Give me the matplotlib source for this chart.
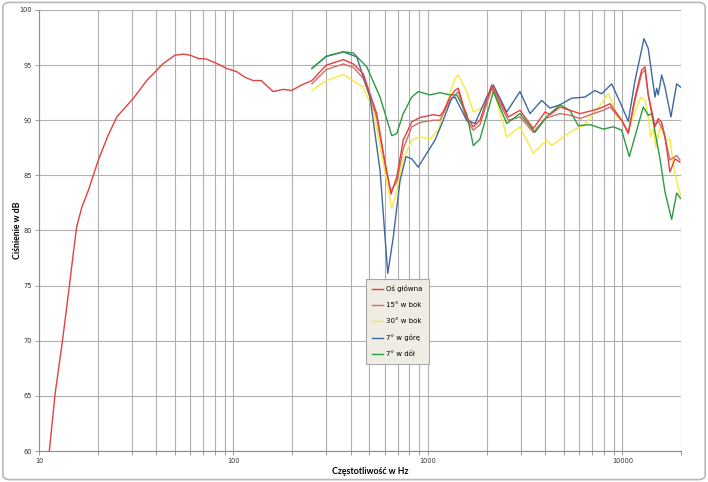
import matplotlib
matplotlib.use("Agg")
import matplotlib.pyplot as plt
from matplotlib.patches import FancyBboxPatch
from matplotlib.ticker import FixedLocator, NullFormatter, LogLocator

# ---------------- data ----------------
main_f = [11.3, 12.1, 13.2, 14.3, 15.0, 15.6, 16.6, 17.9, 20.2, 22.5, 25.1, 30.6, 35.8,
          43.6, 50, 55.3, 59.8, 66, 72.6, 81.9, 92.2, 104, 114.6, 126, 139, 151, 160,
          180, 199, 224, 253, 300, 367, 413, 465, 503, 545, 590, 613, 645, 691, 746,
          825, 910, 1065, 1153, 1200, 1298, 1377, 1431, 1581, 1710, 1851, 2126, 2588,
          2972, 3479, 3995, 4238, 4772, 5371, 6046, 7077, 7967, 8625, 9906, 10710,
          11600, 12550, 13050, 13570, 14130, 14690, 15270, 15900, 16540, 17540, 18610,
          19740]
main_db = [60.0, 65.2, 70.0, 74.85, 77.9, 80.3, 82.1, 83.6, 86.4, 88.5, 90.3, 92.0, 93.6,
           95.15, 95.9, 96.0, 95.9, 95.6, 95.55, 95.15, 94.7, 94.4, 93.9, 93.6, 93.6, 93.0,
           92.6, 92.8, 92.7, 93.2, 93.6, 95.0, 95.5, 95.1, 94.2, 92.4, 90.6, 87.0, 85.45,
           83.3, 84.85, 88.2, 89.85, 90.25, 90.5, 90.4, 90.8, 92.1, 92.7, 92.9, 90.3, 89.4,
           90.0, 93.2, 90.3, 90.9, 89.25, 90.75, 90.5, 91.2, 90.9, 90.6, 90.9, 91.2, 91.5,
           90.0, 88.8, 92.1, 94.55, 94.85, 92.3, 90.9, 89.4, 90.15, 89.8, 88.5, 85.3, 86.5,
           86.2]

s15_f = [253, 300, 367, 413, 465, 503, 545, 590, 613, 645, 691, 746, 825, 910, 1065, 1153,
         1298, 1431, 1581, 1710, 1851, 2126, 2588, 2972, 3479, 3995, 4772, 5371, 6046,
         7077, 7967, 8625, 9906, 10710, 11600, 12550, 13050, 13570, 14130, 14690, 15270,
         16200, 17540, 18990, 19740]
s15_db = [93.3, 94.6, 95.1, 94.8, 93.8, 92.2, 90.2, 86.8, 85.2, 83.6, 84.4, 87.4, 89.4,
          89.8, 90.0, 90.0, 91.8, 92.6, 90.0, 89.1, 89.6, 92.9, 90.0, 90.3, 88.9, 90.15,
          90.6, 90.45, 90.15, 90.6, 90.9, 91.2, 90.0, 88.9, 91.8, 94.25, 94.55, 92.3, 90.6,
          89.6, 89.9, 89.1, 86.4, 86.8, 86.4]

s30_f = [253, 300, 367, 465, 523, 589, 651, 691, 746, 825, 910, 1024, 1130, 1248, 1377,
         1431, 1581, 1710, 1924, 2167, 2539, 2972, 3479, 4076, 4325, 5062, 5584, 6287,
         7367, 8454, 8970, 9337, 9906, 10710, 11460, 12450, 13050, 13570, 13960, 14400,
         14860, 15590, 16870, 17540, 18240, 19120, 19900]
s30_db = [92.7, 93.6, 94.15, 93.0, 90.9, 86.1, 82.0, 83.6, 86.4, 88.2, 88.5, 88.3, 89.1,
          91.5, 93.8, 94.1, 92.6, 90.75, 91.2, 92.9, 88.5, 89.4, 87.0, 88.2, 87.7, 88.6,
          89.1, 89.5, 90.9, 92.4, 91.4, 90.3, 90.0, 88.85, 90.6, 92.1, 91.8, 90.3, 88.5,
          89.2, 87.5, 89.4, 88.2, 88.3, 86.0, 84.2, 83.2]

up_f = [253, 300, 367, 430, 503, 567, 621, 663, 718, 771, 825, 891, 985, 1087, 1198, 1324,
        1377, 1460, 1581, 1744, 2004, 2167, 2539, 2972, 3345, 3842, 4238, 4772, 5480, 6414,
        7221, 7818, 8801, 9708, 10710, 11600, 12900, 13570, 14690, 14990, 15270, 15900,
        16540, 17750, 18990, 19900]
up_db = [94.7, 95.8, 96.2, 95.75, 92.1, 85.45, 76.1, 79.4, 84.5, 86.7, 86.5, 85.75, 87.0,
         88.2, 90.0, 92.0, 92.1, 91.2, 90.0, 89.7, 92.1, 93.2, 90.75, 92.6, 90.6, 91.8,
         91.1, 91.4, 92.0, 92.1, 92.7, 92.4, 93.3, 91.65, 89.9, 93.6, 97.4, 96.5, 92.1,
         92.9, 92.3, 94.1, 93.0, 90.3, 93.3, 93.0]

down_f = [253, 300, 367, 413, 484, 567, 651, 691, 746, 825, 891, 1024, 1153, 1298, 1405,
          1581, 1710, 1851, 2167, 2539, 2972, 3549, 4076, 4772, 5371, 5925, 6806, 7967,
          8970, 9906, 10840, 12790, 13570, 14130, 15590, 16540, 17900, 18990, 19900]
down_db = [94.7, 95.8, 96.2, 96.1, 94.85, 92.1, 88.6, 88.8, 90.6, 92.1, 92.6, 92.3, 92.5,
           92.3, 92.3, 90.6, 87.7, 88.3, 92.6, 89.7, 90.6, 88.9, 90.3, 91.4, 90.9, 89.5,
           89.6, 89.2, 89.4, 89.1, 86.7, 91.2, 90.45, 90.6, 86.5, 83.5, 81.0, 83.4, 82.9]

labels = ["Oś główna", "15° w bok", "30° w bok", "7° w górę", "7° w dół"]
colors = ["#E3413D", "#CF6E68", "#F4EC3C", "#3F699E", "#2F9A3E"]

x_ticks = [10, 100, 1000, 10000]
x_ticklabels = ["10", "100", "1000", "10000"]
y_ticks = [60, 65, 70, 75, 80, 85, 90, 95, 100]

# ---------------- figure ----------------
fig = plt.figure(figsize=(7.08, 4.82), dpi=100)
fig.patch.set_facecolor("white")
border = FancyBboxPatch((0.004, 0.005), 0.992, 0.99, boxstyle="round,pad=0,rounding_size=0.01",
                        transform=fig.transFigure, facecolor="white", edgecolor="#B8B8B8",
                        linewidth=1.2, zorder=-10)
fig.patches.append(border)

ax = fig.add_axes([0.0551, 0.0643, 0.9068, 0.915])
ax.set_facecolor("white")
ax.set_xscale("log")
ax.set_xlim(10, 20000)
ax.set_ylim(60, 100)

series = [(main_f, main_db), (s15_f, s15_db), (s30_f, s30_db), (up_f, up_db), (down_f, down_db)]
order = [2, 1, 3, 4, 0]
lines = {}
for i in order:
    f, d = series[i]
    ln, = ax.plot(f, d, color=colors[i], lw=1.0, label=labels[i], zorder=3 + order.index(i),
                  solid_joinstyle="round")
    lines[i] = ln

ax.xaxis.set_major_locator(FixedLocator(x_ticks))
ax.set_xticklabels(x_ticklabels)
ax.xaxis.set_minor_locator(LogLocator(base=10, subs=range(2, 10), numticks=20))
ax.xaxis.set_minor_formatter(NullFormatter())
ax.set_yticks(y_ticks)

ax.grid(True, which="major", axis="both", color="#B0B0B0", lw=0.8)
ax.grid(True, which="minor", axis="x", color="#B0B0B0", lw=0.8)
ax.set_axisbelow(True)

for s in ["top", "right"]:
    ax.spines[s].set_visible(False)
for s in ["left", "bottom"]:
    ax.spines[s].set_color("#8C8C8C")
    ax.spines[s].set_linewidth(0.8)
ax.tick_params(axis="both", which="both", length=3, width=0.6, color="#8C8C8C",
               labelsize=4.8, labelcolor="#333333", pad=2)

ax.set_xlabel("Częstotliwość w Hz", fontsize=6.3, fontweight="bold", family="Lato")
ax.set_ylabel("Ciśnienie w dB", fontsize=6.3, fontweight="bold", family="Lato")
ax.xaxis.set_label_coords(0.5165, -0.036)
ax.yaxis.set_label_coords(-0.0265, 0.5)

handles = [lines[i] for i in range(5)]
leg = ax.legend(handles, labels, loc="center", bbox_to_anchor=(0.558, 0.294),
                fontsize=5.0, frameon=True, fancybox=False, labelspacing=1.45,
                handlelength=1.6, handletextpad=0.4, borderpad=0.9, borderaxespad=0)
leg.get_frame().set_facecolor("#EEECE3")
leg.get_frame().set_edgecolor("#A8A8A8")
leg.get_frame().set_linewidth(0.8)
leg.get_frame().set_alpha(1)
leg.set_zorder(20)

fig.savefig("out.png", dpi=100, facecolor="white")
